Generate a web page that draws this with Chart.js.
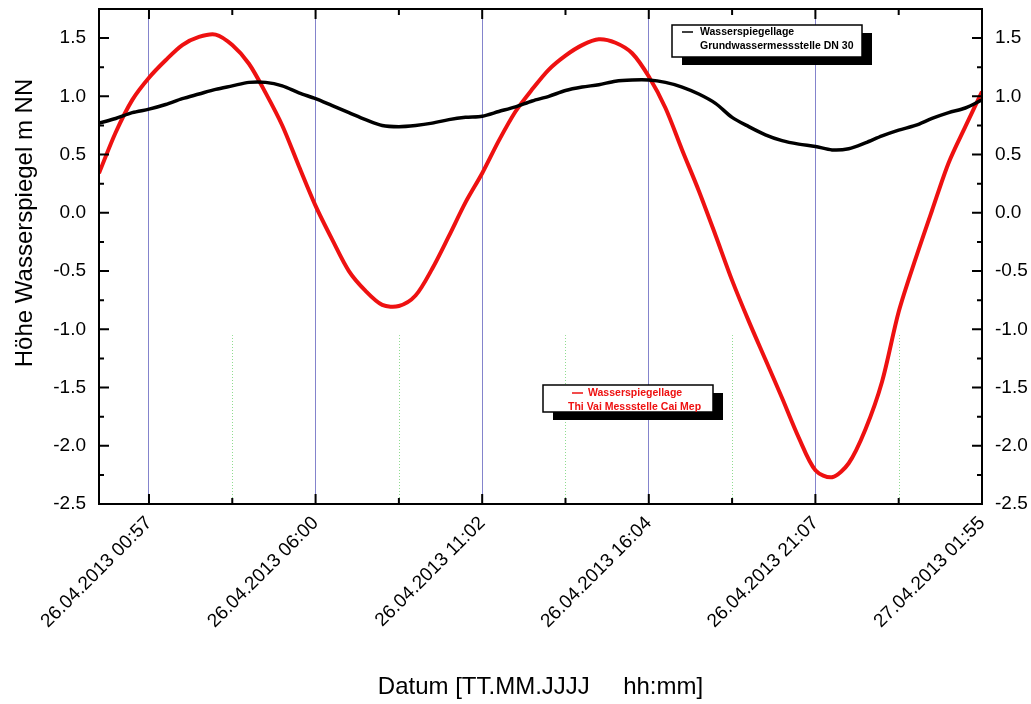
<!DOCTYPE html>
<html lang="de">
<head>
<meta charset="utf-8">
<title>Wasserspiegellage 26.04.2013</title>
<script src="https://cdn.jsdelivr.net/npm/chart.js@4.4.1/dist/chart.umd.min.js"></script>
<style>
  html, body { margin: 0; padding: 0; background: #fff; }
  #wrap { position: relative; width: 1031px; height: 704px; }
</style>
</head>
<body>
<div id="wrap"><canvas id="pegel"></canvas></div>
<script>
// sample position in 10-minute steps, 0 = 26.04.2013 00:57
const samplePos = [
  -9, -6, -3, 0, 3, 6, 9, 12, 15, 18, 21, 24, 27, 30, 33, 36, 39, 42, 45, 48,
  51, 54, 57, 60, 63, 66, 69, 72, 75, 78, 81, 84, 87, 90, 93, 96, 99, 102, 105, 108,
  111, 114, 117, 120, 123, 126, 129, 132, 135, 138, 141, 144, 147, 150
];

// Grundwassermessstelle DN 30 [m NN]
const grundwasser = [
  0.77, 0.81, 0.86, 0.89, 0.93, 0.98, 1.02, 1.06, 1.09, 1.12, 1.12, 1.09, 1.03, 0.98, 0.92, 0.86, 0.80, 0.75, 0.74, 0.75,
  0.77, 0.80, 0.82, 0.83, 0.87, 0.91, 0.96, 1.00, 1.05, 1.08, 1.10, 1.13, 1.14, 1.14, 1.12, 1.08, 1.02, 0.94, 0.82, 0.74,
  0.67, 0.62, 0.59, 0.57, 0.54, 0.55, 0.60, 0.66, 0.71, 0.75, 0.81, 0.86, 0.90, 0.97
];

// Thi Vai, Messstelle Cai Mep [m NN]
const thiVai = [
  0.34, 0.69, 0.97, 1.16, 1.31, 1.44, 1.51, 1.53, 1.44, 1.28, 1.03, 0.75, 0.40, 0.06, -0.23, -0.50, -0.67, -0.79, -0.80, -0.71,
  -0.48, -0.20, 0.09, 0.34, 0.62, 0.87, 1.06, 1.23, 1.35, 1.44, 1.49, 1.46, 1.37, 1.17, 0.90, 0.54, 0.19, -0.19, -0.58, -0.93,
  -1.26, -1.59, -1.93, -2.21, -2.27, -2.15, -1.86, -1.45, -0.85, -0.40, 0.02, 0.43, 0.74, 1.04
];

const majorTicks = [0, 30, 60, 90, 120, 150];
const minorTicks = [15, 45, 75, 105, 135];
const majorLabels = [
  '26.04.2013 00:57', '26.04.2013 06:00', '26.04.2013 11:02',
  '26.04.2013 16:04', '26.04.2013 21:07', '27.04.2013 01:55'
];
const yTicks = [-2.5, -2.25, -2, -1.75, -1.5, -1.25, -1, -0.75, -0.5, -0.25, 0, 0.25, 0.5, 0.75, 1, 1.25, 1.5];
const seriesNames = ['Wasserspiegellage', 'Wasserspiegellage'];
const seriesPlaces = ['Grundwassermessstelle DN 30', 'Thi Vai Messstelle Cai Mep'];
const seriesColors = ['#000000', '#ee1111'];
const greenLineTop = -1.05;

const FONT = "'Liberation Sans', Arial, sans-serif";
const isMajorY = v => Math.abs(v * 2 - Math.round(v * 2)) < 1e-6;

const points = ys => samplePos.map((x, i) => ({ x, y: ys[i] }));

// frame, inward ticks, dotted helper lines, boxed legends, y title
const framePlugin = {
  id: 'framePlugin',
  beforeDatasetsDraw(chart) {
    const { ctx, chartArea: a, scales } = chart;
    const yTop = scales.y.getPixelForValue(greenLineTop);
    ctx.save();
    ctx.strokeStyle = '#8fdc8f';
    ctx.lineWidth = 1;
    ctx.setLineDash([1, 2]);
    minorTicks.forEach(v => {
      const px = Math.round(scales.x.getPixelForValue(v)) + 0.5;
      ctx.beginPath();
      ctx.moveTo(px, a.bottom);
      ctx.lineTo(px, yTop);
      ctx.stroke();
    });
    ctx.restore();
  },
  afterDatasetsDraw(chart) {
    const { ctx, chartArea: a, scales } = chart;
    ctx.save();
    ctx.strokeStyle = '#000';
    ctx.lineWidth = 2;
    ctx.strokeRect(a.left, a.top, a.right - a.left, a.bottom - a.top);

    scales.x.ticks.forEach(t => {
      const px = scales.x.getPixelForValue(t.value);
      const len = majorTicks.includes(t.value) ? 10 : 6;
      ctx.beginPath();
      ctx.moveTo(px, a.bottom); ctx.lineTo(px, a.bottom - len);
      ctx.moveTo(px, a.top); ctx.lineTo(px, a.top + len);
      ctx.stroke();
    });
    scales.y.ticks.forEach(t => {
      const py = scales.y.getPixelForValue(t.value);
      const len = isMajorY(t.value) ? 10 : 5;
      ctx.beginPath();
      ctx.moveTo(a.left, py); ctx.lineTo(a.left + len, py);
      ctx.moveTo(a.right, py); ctx.lineTo(a.right - len, py);
      ctx.stroke();
    });

    // y axis title
    ctx.fillStyle = '#000';
    ctx.font = '24px ' + FONT;
    ctx.textAlign = 'center';
    ctx.textBaseline = 'middle';
    ctx.translate(25, a.top + 214);
    ctx.rotate(-Math.PI / 2);
    ctx.fillText('Höhe Wasserspiegel m NN', 0, 0);
    ctx.restore();

    legendBox(ctx, a.left + 573, a.top + 16, 190, 32, 0, [[10, 28, 7], [null, 28, 21]]);
    legendBox(ctx, a.left + 444, a.top + 376, 170, 27, 1, [[29, 45, 8], [null, 25, 22]]);
  }
};

// rows: [dashOffset or null, textOffset, rowCenter]
function legendBox(ctx, x, y, w, h, si, rows) {
  ctx.save();
  ctx.fillStyle = '#000';
  ctx.fillRect(x + 10, y + 8, w, h);
  ctx.fillStyle = '#fff';
  ctx.fillRect(x, y, w, h);
  ctx.strokeStyle = '#000';
  ctx.lineWidth = 1.5;
  ctx.strokeRect(x, y, w, h);
  ctx.font = 'bold 10.5px ' + FONT;
  ctx.textBaseline = 'middle';
  ctx.textAlign = 'left';
  ctx.fillStyle = seriesColors[si];
  ctx.strokeStyle = seriesColors[si];
  const texts = [seriesNames[si], seriesPlaces[si]];
  rows.forEach((r, i) => {
    if (r[0] !== null) {
      ctx.beginPath();
      ctx.moveTo(x + r[0], y + r[2]);
      ctx.lineTo(x + r[0] + 11, y + r[2]);
      ctx.stroke();
    }
    ctx.fillText(texts[i], x + r[1], y + r[2]);
  });
  ctx.restore();
}

const tickFont = { family: FONT, size: 19 };

// drop the extra room Chart.js keeps for the half-height end labels
const fixYAxis = w => s => {
  s.width = w;
  s.paddingTop = 0;
  s.paddingBottom = 0;
};

new Chart(document.getElementById('pegel'), {
  type: 'line',
  data: {
    datasets: [
      {
        label: seriesPlaces[0],
        data: points(grundwasser),
        borderColor: seriesColors[0],
        borderWidth: 3.5,
        pointRadius: 0,
        tension: 0.3,
        yAxisID: 'y'
      },
      {
        label: seriesPlaces[1],
        data: points(thiVai),
        borderColor: seriesColors[1],
        borderWidth: 4,
        pointRadius: 0,
        tension: 0.3,
        yAxisID: 'y'
      }
    ]
  },
  options: {
    responsive: true,
    maintainAspectRatio: false,
    animation: false,
    layout: { padding: { top: 9, left: 0, right: 0, bottom: 0 } },
    plugins: {
      legend: { display: false },
      tooltip: { enabled: false }
    },
    scales: {
      x: {
        type: 'linear',
        min: -9,
        max: 150,
        afterBuildTicks: s => {
          s.ticks = majorTicks.concat(minorTicks).sort((p, q) => p - q).map(v => ({ value: v }));
        },
        afterFit: s => { s.height = 200; },
        grid: {
          color: c => (c.tick && majorTicks.includes(c.tick.value)) ? '#8484cc' : 'rgba(0,0,0,0)',
          lineWidth: 1,
          drawTicks: false
        },
        border: { display: false },
        ticks: {
          autoSkip: false,
          maxRotation: 45,
          minRotation: 45,
          padding: 8,
          color: '#000',
          font: tickFont,
          callback: v => {
            const i = majorTicks.indexOf(v);
            return i < 0 ? '' : majorLabels[i];
          }
        },
        title: {
          display: true,
          text: 'Datum [TT.MM.JJJJ     hh:mm]',
          color: '#000',
          font: { family: FONT, size: 24 },
          padding: { top: 0, bottom: 2 }
        }
      },
      y: {
        type: 'linear',
        position: 'left',
        min: -2.5,
        max: 1.75,
        afterBuildTicks: s => { s.ticks = yTicks.map(v => ({ value: v })); },
        afterFit: fixYAxis(99),
        grid: { display: false, drawTicks: false },
        border: { display: false },
        ticks: {
          padding: 13,
          color: '#000',
          font: tickFont,
          callback: v => isMajorY(v) ? v.toFixed(1) : ''
        }
      },
      y2: {
        type: 'linear',
        position: 'right',
        min: -2.5,
        max: 1.75,
        afterBuildTicks: s => { s.ticks = yTicks.map(v => ({ value: v })); },
        afterFit: fixYAxis(49),
        grid: { display: false, drawTicks: false },
        border: { display: false },
        ticks: {
          padding: 13,
          color: '#000',
          font: tickFont,
          callback: v => isMajorY(v) ? v.toFixed(1) : ''
        }
      }
    }
  },
  plugins: [framePlugin]
});
</script>
</body>
</html>
